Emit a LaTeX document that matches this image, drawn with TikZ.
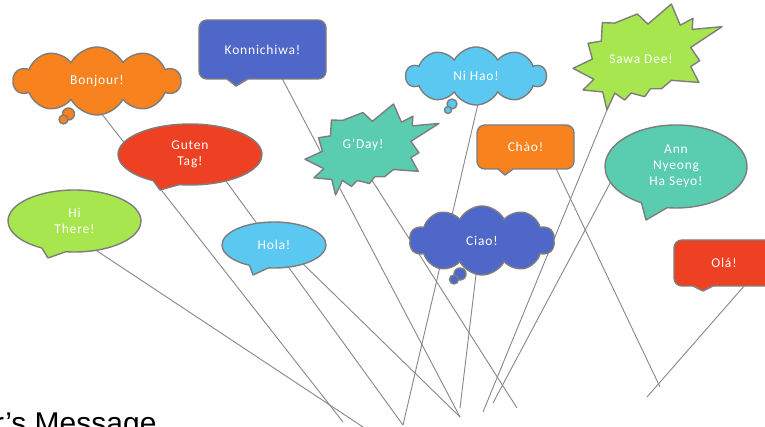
\documentclass[tikz,border=0pt]{standalone}
\usepackage{fontspec}
\setmainfont{Carlito}
\newfontfamily\balloonfont[LetterSpace=6]{Carlito}
\newfontfamily\captionfont{Liberation Sans}
\usetikzlibrary{shapes.symbols,shapes.callouts,calc}
\pgfdeclarelayer{strings}
\pgfsetlayers{strings,main}
\definecolor{cOrange}{RGB}{247,130,30}
\definecolor{cBlue}{RGB}{79,103,200}
\definecolor{cSky}{RGB}{90,200,240}
\definecolor{cLime}{RGB}{168,230,80}
\definecolor{cRed}{RGB}{238,65,35}
\definecolor{cTeal}{RGB}{90,204,176}
\definecolor{cEdge}{RGB}{125,125,125}
\definecolor{cString}{RGB}{135,135,135}
\tikzset{
  edgeline/.style={draw=cEdge, line width=1.4pt, line join=round},
  balloon/.style={edgeline, text=white, font=\balloonfont\fontsize{13.5}{16}\selectfont, align=center, inner sep=0pt},
  boxballoon/.style={balloon, rectangle, rounded corners=8pt},
  ovalballoon/.style={balloon, ellipse callout, callout pointer arc=22},
  cloudballoon/.style={balloon, cloud, cloud puffs=10, cloud puff arc=125, cloud ignores aspect},
  bursttext/.style={text=white, font=\balloonfont\fontsize{13.5}{16}\selectfont, inner sep=0pt},
  stringline/.style={draw=cString, line width=0.9pt},
}
\newcommand\drawburst[5]{%
  \begin{scope}[shift={(#1,#2)},xscale=#3,yscale=#4]
    \filldraw[edgeline,fill=#5] (0.197,0.176) -- (0.28,0.18) -- (0.432,0.094) -- (0.503,0.19)
      -- (0.660,0) -- (0.72,0.20) -- (0.805,0.135) -- (0.80,0.24) -- (1,0.214)
      -- (0.79,0.41) -- (0.850,0.535) -- (0.79,0.59) -- (0.845,0.74) -- (0.66,0.72)
      -- (0.593,0.80) -- (0.52,0.80) -- (0.481,0.874) -- (0.39,0.84) -- (0.347,0.906)
      -- (0.28,0.84) -- (0.228,1) -- (0.20,0.83) -- (0.067,0.811) -- (0.14,0.71)
      -- (0,0.607) -- (0.13,0.52) -- (0.101,0.371) -- (0.19,0.35) -- cycle;
  \end{scope}}
\begin{document}
\begin{tikzpicture}[x=1pt,y=-1pt]
\useasboundingbox (0,0) rectangle (765,427);

% box balloons
\node[boxballoon, fill=cBlue, minimum width=127pt, minimum height=59pt] (konn) at (262.5,49.5) {Konnichiwa!};
\fill[cBlue] (226,77) -- (236,86) -- (249,77) -- cycle;
\draw[edgeline] (227,79) -- (236,86) -- (248,79);

\node[boxballoon, fill=cOrange, minimum width=97pt, minimum height=44pt] (chao) at (525.5,147) {Chào!};
\fill[cOrange] (497,167) -- (505,175) -- (514,167) -- cycle;
\draw[edgeline] (498,169) -- (505,175) -- (513,169);

\node[boxballoon, fill=cRed, minimum width=100pt, minimum height=46pt] (ola) at (724,263) {Olá!};
\fill[cRed] (692,284) -- (703,291) -- (714,284) -- cycle;
\draw[edgeline] (693,286) -- (703,291) -- (713,286);

% oval balloons
\node[ovalballoon, fill=cRed, minimum width=144pt, minimum height=61pt, callout absolute pointer={(160,190)}] (guten) at (190,154.5) {Guten\\Tag!};
\node[ovalballoon, fill=cTeal, minimum width=142pt, minimum height=83pt, callout absolute pointer={(646,220)}] (ann) at (676,166.5) {Ann\\Nyeong\\Ha Seyo!};
\node[ovalballoon, fill=cLime, minimum width=133pt, minimum height=62pt, callout absolute pointer={(48,258)}] (hi) at (74.5,221) {Hi\\There!};
\node[ovalballoon, fill=cSky, minimum width=104pt, minimum height=46pt, callout absolute pointer={(253,275)}] (hola) at (274,245) {Hola!};

% clouds
\node[cloudballoon, fill=cOrange, minimum width=167pt, minimum height=68pt] (bonjour) at (97,81) {Bonjour!};
\filldraw[edgeline, fill=cOrange] (68.5,114) circle[radius=6pt];
\filldraw[edgeline, fill=cOrange] (63.5,119.5) circle[radius=4.5pt];
\node[cloudballoon, fill=cSky, minimum width=140pt, minimum height=58pt] (nihao) at (476,76) {Ni Hao!};
\filldraw[edgeline, fill=cSky] (452,104) circle[radius=5pt];
\filldraw[edgeline, fill=cSky] (448,110) circle[radius=3.5pt];
\node[cloudballoon, fill=cBlue, minimum width=145pt, minimum height=69pt] (ciao) at (482,240.5) {Ciao!};
\filldraw[edgeline, fill=cBlue] (460,274) circle[radius=6pt];
\filldraw[edgeline, fill=cBlue] (454,279.5) circle[radius=4.5pt];

% bursts
\drawburst{305}{104}{134}{91}{cTeal}
\node[bursttext] (gday) at (363,145) {G’Day!};
\drawburst{573}{4}{149}{106}{cLime}
\node[bursttext] (sawadee) at (641,59) {Sawa Dee!};

% caption
\node[anchor=base west, inner sep=0pt, font=\captionfont\fontsize{30}{36}\selectfont] (caption) at (-6,433) {r’s Message};

% strings
\coordinate (bonjourS) at (90,99);   \coordinate (bonjourE) at (343,422);
\coordinate (gutenS) at (218,170);   \coordinate (gutenE) at (403,425);
\coordinate (hiS) at (85,243);       \coordinate (hiE) at (363,427);
\coordinate (holaS) at (297,258);    \coordinate (holaE) at (460,417);
\coordinate (konnS) at (274,63);     \coordinate (konnE) at (460,417);
\coordinate (gdayS) at (368,174);    \coordinate (gdayE) at (517,408);
\coordinate (nihaoS) at (481,91);    \coordinate (nihaoE) at (403,425);
\coordinate (ciaoS) at (478,258);    \coordinate (ciaoE) at (460,408);
\coordinate (sawaS) at (607,110);    \coordinate (sawaE) at (483,412);
\coordinate (annS) at (616,172);     \coordinate (annE) at (493,403);
\coordinate (chaoS) at (552,160);    \coordinate (chaoE) at (660,387);
\coordinate (olaS) at (752,277);     \coordinate (olaE) at (647,397);
\begin{pgfonlayer}{strings}
\fill[white] (0,0) rectangle (765,427);
\foreach \s in {bonjour,guten,hi,hola,konn,gday,nihao,ciao,sawa,ann,chao,ola}
  \draw[stringline] (\s S) -- (\s E);
\end{pgfonlayer}
\end{tikzpicture}
\end{document}
